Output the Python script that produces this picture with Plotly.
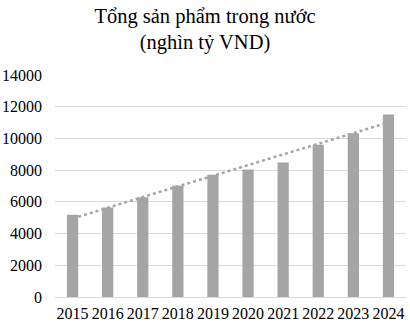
import numpy as np
import plotly.graph_objects as go

years = ["2015", "2016", "2017", "2018", "2019", "2020", "2021", "2022", "2023", "2024"]
gdp = [5191, 5639, 6293, 7009, 7707, 8044, 8487, 9600, 10320, 11512]
y_ticks = [0, 2000, 4000, 6000, 8000, 10000, 12000, 14000]

# Linear trendline (least-squares fit of the bar values)
xi = np.arange(len(gdp))
slope, intercept = np.polyfit(xi, gdp, 1)
trend = slope * xi + intercept

FONT = "Liberation Serif"

fig = go.Figure()
fig.add_trace(go.Bar(x=years, y=gdp, marker=dict(color="#a5a5a5", line=dict(width=0)),
                     width=0.32, showlegend=False))
fig.add_trace(go.Scatter(x=years, y=trend, mode="lines",
                         line=dict(color="#a5a5a5", width=2.5, dash="dot"),
                         showlegend=False, hoverinfo="skip"))

fig.update_layout(
    width=410, height=324,
    margin=dict(l=55, r=4, t=75, b=27),
    paper_bgcolor="white", plot_bgcolor="white",
    font=dict(family=FONT, color="#000000", size=16),
    title=dict(text="Tổng sản phẩm trong nước<br>(nghìn tỷ VND)",
               x=0.5, xanchor="center", y=0.93, yanchor="middle", yref="container",
               font=dict(family=FONT, size=20.5, color="#000000")),
    xaxis=dict(type="category", showgrid=False, showline=False, zeroline=False,
               ticks="", tickangle=0, tickfont=dict(family=FONT, size=16),
               ticklabelstandoff=5, automargin=False),
    yaxis=dict(range=[0, 14000], tickvals=y_ticks, ticktext=[str(v) for v in y_ticks],
               showgrid=True, gridcolor="#d9d9d9",
               gridwidth=1, zeroline=True, zerolinecolor="#d9d9d9", zerolinewidth=1,
               showline=False, ticks="", tickfont=dict(family=FONT, size=16),
               ticklabelstandoff=12, automargin=False),
)

fig.write_html("out.html")
